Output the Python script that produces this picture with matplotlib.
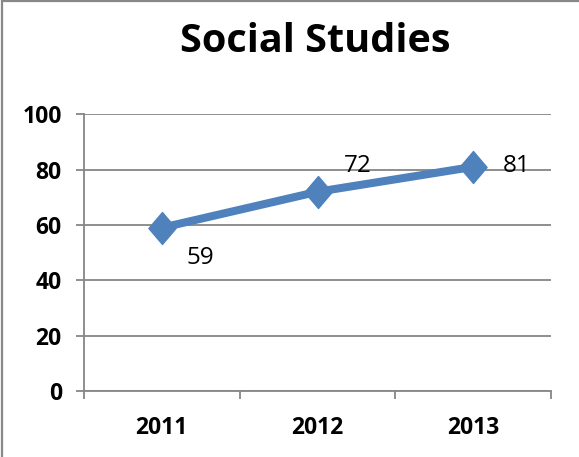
import numpy as np
import matplotlib
matplotlib.use("Agg")
import matplotlib.pyplot as plt
from matplotlib.patches import Rectangle
from matplotlib.path import Path

years = ["2011", "2012", "2013"]
scores = [59, 72, 81]
yticks = [0, 20, 40, 60, 80, 100]
title = "Social Studies"

# label offsets in pixels (dx, dy), picked to match the reference
label_offsets = [(38, -30), (40, 26), (43, 1)]

plt.rcParams["font.family"] = ["Open Sans", "DejaVu Sans"]
grid_color = "#868686"
blue = "#4F81BD"

fig = plt.figure(figsize=(5.79, 4.57), dpi=100)
ax = fig.add_axes([84 / 579, 1 - 391 / 457, (551 - 84) / 579, (391 - 114.3) / 457])

x = np.arange(len(years)) + 0.5
diamond = Path([(0, 1), (0.85, 0), (0, -1), (-0.85, 0), (0, 1)],
               [Path.MOVETO, Path.LINETO, Path.LINETO, Path.LINETO, Path.CLOSEPOLY])
ax.plot(x, scores, color=blue, lw=5.8, marker=diamond, ms=23, solid_capstyle="round", zorder=3)

for xi, v, (dx, dy) in zip(x, scores, label_offsets):
    ax.annotate(str(v), (xi, v), xytext=(dx * 0.72, dy * 0.72), textcoords="offset points",
                ha="center", va="center", fontsize=17.5)

ax.set_xlim(0, len(years))
ax.set_ylim(0, 100)
ax.set_yticks(yticks)
ax.set_yticklabels([str(t) for t in yticks], fontweight="bold", fontsize=16.5)
ax.yaxis.grid(True, color=grid_color, lw=1.3)
ax.set_axisbelow(True)

ax.set_xticks(np.arange(len(years) + 1))
ax.set_xticklabels([])
ax.set_xticks(x, minor=True)
ax.set_xticklabels(years, minor=True, fontweight="bold", fontsize=16.5)
ax.tick_params(axis="x", which="major", length=6, width=1.3, color=grid_color, direction="out")
ax.tick_params(axis="x", which="minor", length=0, pad=18)
ax.tick_params(axis="y", length=6, width=1.3, color=grid_color, pad=10)

for side in ["top", "right"]:
    ax.spines[side].set_visible(False)
for side in ["left", "bottom"]:
    ax.spines[side].set_color(grid_color)
    ax.spines[side].set_linewidth(1.3)

fig.text(315 / 579, 1 - 42 / 457, title, ha="center", va="center", fontsize=28.5, fontweight="bold")

fig.patches.append(Rectangle((2 / 579, -0.1), 1.2, 1 - 1.5 / 457 + 0.1, transform=fig.transFigure,
                             fill=False, edgecolor="#888888", lw=1.6))

plt.savefig("out.png", dpi=100)
